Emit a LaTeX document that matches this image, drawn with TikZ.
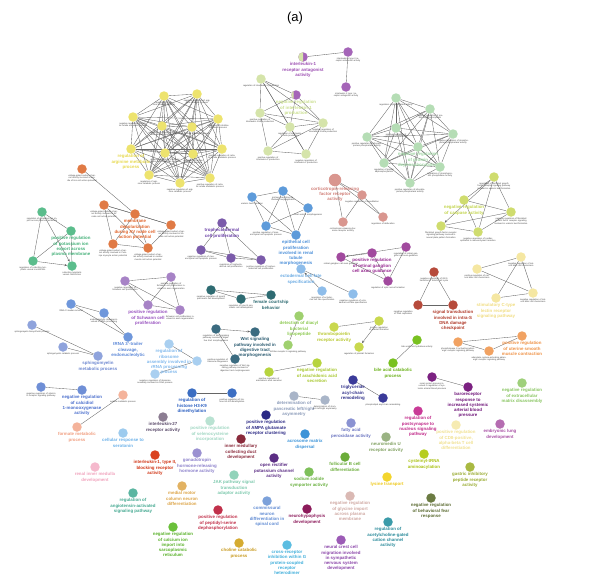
\documentclass[tikz,border=0pt]{standalone}
\usepackage{fontspec}
\setmainfont{Liberation Sans}
\usetikzlibrary{backgrounds,arrows.meta}
\definecolor{cY}{HTML}{EDE36E}\definecolor{cYl}{HTML}{E6D84E}
\definecolor{cG}{HTML}{D5E4AA}\definecolor{cGl}{HTML}{C9DE8E}
\definecolor{cP}{HTML}{A565B8}\definecolor{cPl}{HTML}{9A4CB0}
\definecolor{cM}{HTML}{B5DDB5}\definecolor{cMl}{HTML}{9ED4A2}
\definecolor{cO}{HTML}{CFDC6E}\definecolor{cOl}{HTML}{C2D44C}
\definecolor{cS}{HTML}{D9968F}\definecolor{cSl}{HTML}{D07E77}
\definecolor{cE}{HTML}{5E9BDA}\definecolor{cEl}{HTML}{4A8ED8}
\definecolor{cLB}{HTML}{8EBDEA}\definecolor{cLBl}{HTML}{6AAAE2}
\definecolor{cTR}{HTML}{7B5BAA}\definecolor{cTRl}{HTML}{6A40A6}
\definecolor{cF}{HTML}{2E6B72}
\definecolor{cRG}{HTML}{A14A9E}\definecolor{cRGl}{HTML}{962A90}
\definecolor{cOR}{HTML}{E07A45}\definecolor{cORl}{HTML}{E0652C}
\definecolor{cK}{HTML}{5BBD8C}\definecolor{cKl}{HTML}{45B079}
\definecolor{cSW}{HTML}{A783C6}\definecolor{cSWl}{HTML}{9650BE}
\definecolor{cTB}{HTML}{6F97DB}\definecolor{cTBl}{HTML}{5A86D6}
\definecolor{cSP}{HTML}{8FA3DC}\definecolor{cSPl}{HTML}{6C86CF}
\definecolor{cCA}{HTML}{6F8FD6}\definecolor{cCAl}{HTML}{4A6ECC}
\definecolor{cFO}{HTML}{F4B39B}\definecolor{cFOl}{HTML}{F09E80}
\definecolor{cSE}{HTML}{9DCBEE}\definecolor{cSEl}{HTML}{6AB0E8}
\definecolor{cRB}{HTML}{A9CFF0}\definecolor{cRBl}{HTML}{80B8EC}
\definecolor{cHI}{HTML}{3C6EC2}\definecolor{cHIl}{HTML}{2A5EC0}
\definecolor{cIL}{HTML}{8C7D92}\definecolor{cILl}{HTML}{5A4A6A}
\definecolor{cWN}{HTML}{3B6B80}\definecolor{cWNl}{HTML}{2A5A70}
\definecolor{cDI}{HTML}{9FD06F}\definecolor{cDIl}{HTML}{8CC850}
\definecolor{cTH}{HTML}{C9D84F}\definecolor{cTHl}{HTML}{B8C830}
\definecolor{cAR}{HTML}{B7D43F}\definecolor{cARl}{HTML}{A6C62C}
\definecolor{cBI}{HTML}{79C121}\definecolor{cBIl}{HTML}{6AB018}
\definecolor{cTG}{HTML}{3A3A99}\definecolor{cTGl}{HTML}{30308A}
\definecolor{cPA}{HTML}{A9B5C8}\definecolor{cPAl}{HTML}{8A9AB8}
\definecolor{cAM}{HTML}{2C2A85}
\definecolor{cSC}{HTML}{B9E2D2}\definecolor{cSCl}{HTML}{A0D6C2}
\definecolor{cFA}{HTML}{8A92D2}\definecolor{cFAl}{HTML}{6A74C0}
\definecolor{cNM}{HTML}{9AB383}\definecolor{cNMl}{HTML}{80A060}
\definecolor{cAC}{HTML}{3B93D8}
\definecolor{cIM}{HTML}{8A2B3C}
\definecolor{cGN}{HTML}{9B91D1}\definecolor{cGNl}{HTML}{8A7FCA}
\definecolor{cOP}{HTML}{5B2D84}
\definecolor{cFB}{HTML}{6BAC3A}
\definecolor{cNI}{HTML}{7EC05A}\definecolor{cNIl}{HTML}{6AB040}
\definecolor{cLY}{HTML}{F3D52E}\definecolor{cLYl}{HTML}{EEC81C}
\definecolor{cJK}{HTML}{92D3BA}\definecolor{cJKl}{HTML}{7CC8AC}
\definecolor{cGL}{HTML}{DAB9B4}\definecolor{cGLl}{HTML}{CFA8A2}
\definecolor{cCM}{HTML}{7CA1DA}\definecolor{cCMl}{HTML}{5F8AD2}
\definecolor{cNH}{HTML}{8C1B5B}
\definecolor{cPS}{HTML}{C1314B}
\definecolor{cAH}{HTML}{3B9BA9}\definecolor{cAHl}{HTML}{2A8A9A}
\definecolor{cCH}{HTML}{D5AB31}\definecolor{cCHl}{HTML}{C89A20}
\definecolor{cCR}{HTML}{5CBDE1}\definecolor{cCRl}{HTML}{40AEDA}
\definecolor{cNC}{HTML}{9C5BB6}\definecolor{cNCl}{HTML}{8A44A8}
\definecolor{cRI}{HTML}{F5B9CD}\definecolor{cRIl}{HTML}{F0A2BC}
\definecolor{cI1}{HTML}{DA421F}\definecolor{cI1l}{HTML}{D03414}
\definecolor{cMM}{HTML}{E2B262}\definecolor{cMMl}{HTML}{DCA448}
\definecolor{cAN}{HTML}{5BB6A1}\definecolor{cANl}{HTML}{44A890}
\definecolor{cCL}{HTML}{6BC03B}\definecolor{cCLl}{HTML}{58B028}
\definecolor{cCY}{HTML}{B6CD1C}\definecolor{cCYl}{HTML}{A8C010}
\definecolor{cGA}{HTML}{A9B942}\definecolor{cGAl}{HTML}{98AA30}
\definecolor{cFE}{HTML}{6B7B42}\definecolor{cFEl}{HTML}{5A6A30}
\definecolor{cCD}{HTML}{F6EBB2}\definecolor{cCDl}{HTML}{F0E090}
\definecolor{cEL}{HTML}{B56CB1}\definecolor{cELl}{HTML}{A850A4}
\definecolor{cPO}{HTML}{C93B97}\definecolor{cPOl}{HTML}{C02888}
\definecolor{cBR}{HTML}{7B2181}\definecolor{cBRl}{HTML}{6E1478}
\definecolor{cEC}{HTML}{9FD07B}\definecolor{cECl}{HTML}{88C460}
\definecolor{cUT}{HTML}{F1A262}\definecolor{cUTl}{HTML}{EE9044}
\definecolor{cST}{HTML}{B64A3B}\definecolor{cSTl}{HTML}{B03A2A}
\definecolor{cCT}{HTML}{F5E7A2}\definecolor{cCTl}{HTML}{F0DC80}
\tikzset{
 nd/.style={circle,minimum size=9.5pt,inner sep=0pt,draw=none},
 tl/.style={font=\fontsize{2.2}{2.6}\selectfont,text=black!75,align=center,text width=36pt,inner sep=0.6pt},
 bl/.style={font=\fontsize{4.4}{5.2}\selectfont\bfseries,align=center,inner sep=0.6pt},
 ed/.style={draw=black!60,line width=0.35pt},
 arr/.style={ed,-{Stealth[length=2.6pt,width=2.2pt]}},
}
\newcommand{\tnode}[5]{\node[nd,fill=#4,label={[tl]below:{#5}}] (#1) at (#2,#3) {};}
\newcommand{\bnode}[6]{\node[nd,fill=#4,label={[bl,text=#5]below:{#6}}] (#1) at (#2,#3) {};}
\begin{document}
\begin{tikzpicture}[x=1pt,y=-1pt]
\useasboundingbox (0,0) rectangle (593,578);
\node[font=\fontsize{13}{15}\selectfont\rmfamily] (title) at (295,18) {(a)};
% yellow cluster
\tnode{y1}{164}{96}{cY}{regulation of arginine catabolic process}
\tnode{y2}{197}{94}{cY}{negative regulation of arginine catabolic process}
\tnode{y3}{133}{117}{cY}{negative regulation of cellular amide metabolic process}
\tnode{y4}{162}{126}{cY}{regulation of cellular amino acid catabolic process}
\tnode{y5}{192}{127}{cY}{regulation of urea metabolic process}
\tnode{y6}{218}{119}{cY}{regulation of citrulline metabolic process}
\bnode{y7}{131}{149}{cY}{cYl}{regulation of\\arginine metabolic\\process}
\tnode{y8}{165}{153}{cY}{negative regulation of cellular amino acid metabolic process}
\tnode{y9}{193}{154}{cY}{regulation of amine metabolic process}
\tnode{y10}{222}{149}{cY}{positive regulation of cellular amide metabolic process}
\tnode{y11}{149}{175}{cY}{regulation of arginine catabolic process}
\tnode{y12}{180}{183}{cY}{negative regulation of arginine catabolic process}
\tnode{y13}{210}{178}{cY}{positive regulation of cellular amide metabolic process}
% light green + purple
\tnode{g1}{261}{79}{cG}{regulation of interleukin-1 production}
\bnode{g2}{296}{95}{cP}{cGl}{negative regulation\\of interleukin-1\\production}
\tnode{g3}{260}{113}{cG}{positive regulation of interleukin-1 beta production}
\tnode{g4}{290}{127}{cG}{regulation of interleukin-1 beta production}
\tnode{g5}{323}{123}{cG}{negative regulation of interleukin-1 beta production}
\tnode{g6}{268}{151}{cG}{positive regulation of interleukin-1 production}
\tnode{g7}{306}{154}{cG}{negative regulation of interleukin-1 production}
\bnode{p1}{303}{57}{cP}{cPl}{interleukin-1\\receptor antagonist\\activity}
\tnode{p2}{348}{52}{cP}{interleukin-1 type II receptor antagonist activity}
\tnode{p3}{346}{87}{cP}{interleukin-1 type I receptor antagonist activity}
\begin{scope}\clip (290,40) rectangle (303,70); \fill[cG] (p1) circle (4.75); \end{scope}
\begin{scope}\clip (280,80) rectangle (293.5,110); \fill[cG] (g2) circle (4.75); \end{scope}
% mint
\tnode{m1}{396}{98}{cM}{regulation of phosphatase activity}
\tnode{m2}{430}{109}{cM}{negative regulation of protein dephosphorylation}
\tnode{m3}{396}{128}{cM}{positive regulation of phosphatase activity}
\tnode{m4}{453}{134}{cM}{negative regulation of phosphoprotein phosphatase activity}
\tnode{m5}{367}{137}{cM}{positive regulation of phosphoprotein phosphatase activity}
\bnode{m6}{418}{147}{cM}{cMl}{negative regulation\\of protein\\dephosphorylation}
\tnode{m7}{384}{163}{cM}{regulation of protein dephosphorylation}
\tnode{m8}{440}{167}{cM}{regulation of phosphoprotein phosphatase activity}
\tnode{m9}{410}{183}{cM}{positive regulation of phosphoprotein phosphatase activity}
% olive
\tnode{n1}{494}{177}{cO}{regulation of fibroblast growth factor receptor signaling pathway involved in ureteric bud formation}
\bnode{n2}{464}{200}{cO}{cOl}{negative regulation\\of caspase activity}
\tnode{n3}{511}{212}{cO}{negative regulation of fibroblast growth factor receptor signaling involved in ureteric bud formation}
\tnode{n4}{441}{226}{cO}{fibroblast growth factor receptor signaling pathway involved in neural plate pattern formation}
\tnode{n5}{478}{232}{cO}{negative regulation of cardiac epithelial to mesenchymal transition}
% salmon
\node[nd,minimum size=12.5pt,fill=cS,label={[bl,text=cSl]below:{corticotropin-releasing\\factor receptor\\activity}}] (c1) at (335,180) {};
\tnode{c2}{362}{195}{cS}{negative regulation of vasodilation}
\tnode{c3}{383}{217}{cS}{regulation of defecation}
\tnode{c4}{343}{222}{cS}{corticotropin-releasing hormone receptor activity}
% blue epithelial
\tnode{e1}{252}{197}{cE}{ureteric bud formation}
\tnode{e2}{283}{191}{cE}{primary branching epithelium morphogenesis}
\tnode{e3}{308}{208}{cE}{renal vesicle morphogenesis}
\tnode{e4}{266}{226}{cE}{positive regulation of mesenchymal cell apoptotic process}
\bnode{e5}{296}{235}{cE}{cEl}{epithelial cell\\proliferation\\involved in renal\\tubule\\morphogenesis}
% ectodermal
\bnode{d1}{301}{269}{cLB}{cLBl}{ectodermal cell fate\\specification}
\tnode{d2}{322}{291}{cLB}{regulation of ectodermal cell fate specification}
\tnode{d3}{353}{294}{cLB}{negative regulation of ectodermal cell fate specification}
% trophectodermal
\bnode{r1}{222}{223}{cTR}{cTRl}{trophectodermal\\cell proliferation}
\tnode{r2}{201}{250}{cTR}{negative regulation of mesenchymal cell apoptotic process}
\tnode{r3}{231}{258}{cTR}{regulation of trophectodermal cell proliferation}
\tnode{r4}{261}{260}{cTR}{positive regulation of trophectodermal cell proliferation}
% female courtship
\tnode{f1}{211}{290}{cF}{negative regulation of type B pancreatic cell development}
\tnode{f2}{241}{299}{cF}{regulation of type B pancreatic cell development}
\bnode{f3}{271}{295}{cF}{cF}{female courtship\\behavior}
% retinal
\tnode{q1}{341}{257}{cRG}{retinal ganglion cell axon guidance}
\bnode{q2}{372}{253}{cRG}{cRGl}{positive regulation\\of retinal ganglion\\cell axon guidance}
\tnode{q3}{406}{247}{cRG}{regulation of retinal ganglion cell axon guidance}
\tnode{q4}{388}{281}{cRG}{regulation of optic nerve formation}
% orange
\tnode{o1}{82}{169}{cOR}{voltage-gated sodium channel activity involved in bundle of His cell action potential}
\tnode{o2}{104}{205}{cOR}{voltage-gated sodium channel activity involved in AV node cell action potential}
\bnode{o3}{135}{214}{cOR}{cORl}{membrane\\depolarization\\during AV node cell\\action potential}
\tnode{o4}{171}{225}{cOR}{voltage-gated sodium channel activity involved in SA node cell action potential}
\tnode{o5}{113}{244}{cOR}{voltage-gated sodium channel activity involved in Purkinje myocyte action potential}
\tnode{o6}{148}{248}{cOR}{voltage-gated sodium channel activity involved in cardiac muscle cell action potential}
% green K
\tnode{k1}{42}{212}{cK}{regulation of potassium ion import across plasma membrane}
\bnode{k2}{71}{231}{cK}{cKl}{positive regulation\\of potassium ion\\export across\\plasma membrane}
\tnode{k3}{33}{261}{cK}{regulation of collecting lymphatic vessel constriction}
\tnode{k4}{72}{266}{cK}{collecting lymphatic vessel constriction}
% Schwann
\tnode{s1}{125}{281}{cSW}{negative regulation of Schwann cell proliferation}
\tnode{s2}{171}{277}{cSW}{positive regulation of Schwann cell proliferation involved in axon regeneration}
\bnode{s3}{148}{305}{cSW}{cSWl}{positive regulation\\of Schwann cell\\proliferation}
\tnode{s4}{180}{310}{cSW}{Schwann cell proliferation involved in axon regeneration}
% tRNA
\tnode{t1}{71}{304}{cTB}{tRNA 5'-leader removal}
\tnode{t2}{104}{313}{cTB}{endonucleolytic cleavage involved in tRNA processing}
\bnode{t3}{128}{337}{cTB}{cTBl}{tRNA 3'-trailer\\cleavage,\\endonucleolytic}
% sphingomyelin
\tnode{h1}{32}{325}{cSP}{sphingomyelin biosynthetic process}
\tnode{h2}{63}{347}{cSP}{sphingomyelin catabolic process}
\bnode{h3}{98}{356}{cSP}{cSPl}{sphingomyelin\\metabolic process}
% calcidiol
\tnode{a1}{41}{387}{cCA}{negative regulation of vitamin D receptor signaling pathway}
\bnode{a2}{82}{390}{cCA}{cCAl}{negative regulation\\of calcidiol\\1-monooxygenase\\activity}
% formate
\tnode{fm1}{123}{395}{cFO}{oxalate metabolic process}
\bnode{fm2}{77}{427}{cFO}{cFOl}{formate metabolic\\process}
\bnode{se}{123}{433}{cSE}{cSEl}{cellular response to\\serotonin}
% ribosome
\bnode{rb1}{169}{344}{cRB}{cRBl}{regulation of\\ribosome\\assembly involved in\\rRNA processing\\process}
\node[nd,fill=cRB,label={[tl,text width=30pt]right:{positive regulation of ribosome biogenesis}}] (rb2) at (197,361) {};
\tnode{rb3}{155}{374}{cRB}{negative regulation of ribosome assembly involved in rRNA process}
% histone
\bnode{hi1}{192}{393}{cHI}{cHIl}{regulation of\\histone H3-K9\\dimethylation}
\tnode{hi2}{232}{393}{cHI}{positive regulation of histone H3-K9 dimethylation}
\bnode{il}{163}{417}{cIL}{cILl}{interleukin-27\\receptor activity}
% Wnt
\tnode{w1}{216}{329}{cWN}{regulation of Wnt signaling pathway involved in digestive tract morphogenesis}
\bnode{w2}{255}{332}{cWN}{cWNl}{Wnt signaling\\pathway involved in\\digestive tract\\morphogenesis}
\tnode{w3}{235}{359}{cWN}{negative regulation of Wnt signaling pathway involved in digestive tract morphogenesis}
% diacyl
\bnode{di1}{299}{316}{cDI}{cDIl}{detection of diacyl\\bacterial\\lipopeptide}
\tnode{di2}{288}{345}{cDI}{toll-like receptor 6 signaling pathway}
% thrombopoietin
\bnode{th1}{334}{327}{cTH}{cTHl}{thrombopoietin\\receptor activity}
\tnode{th2}{379}{321}{cTH}{positive regulation of platelet formation}
\tnode{th3}{359}{347}{cTH}{regulation of platelet formation}
% arachidonic
\tnode{ar1}{269}{372}{cAR}{positive regulation of arachidonic acid secretion}
\bnode{ar2}{317}{363}{cAR}{cARl}{negative regulation\\of arachidonic acid\\secretion}
% bile
\tnode{bi1}{417}{340}{cBI}{bile acid-CoA hydrolase activity}
\bnode{bi2}{393}{363}{cBI}{cBIl}{bile acid catabolic\\process}
% triglyceride
\bnode{tg1}{353}{380}{cTG}{cTGl}{triglyceride\\acyl-chain\\remodeling}
\tnode{tg2}{383}{398}{cTG}{phospholipid acyl-chain remodeling}
% pancreatic
\bnode{pa1}{294}{396}{cPA}{cPAl}{determination of\\pancreatic left/right\\asymmetry}
\tnode{pa2}{325}{400}{cPA}{determination of stomach left/right asymmetry}
% singletons
\bnode{am}{266}{415}{cAM}{cAM}{positive regulation\\of AMPA glutamate\\receptor clustering}
\bnode{sc}{210}{421}{cSC}{cSCl}{positive regulation\\of selenocysteine\\incorporation}
\bnode{fa}{351}{423}{cFA}{cFAl}{fatty acid\\peroxidase activity}
\bnode{nm}{386}{437}{cNM}{cNMl}{neuromedin U\\receptor activity}
\bnode{ac}{305}{434}{cAC}{cAC}{acrosome matrix\\dispersal}
\bnode{im}{241}{439}{cIM}{cIM}{inner medullary\\collecting duct\\development}
\bnode{gn}{197}{453}{cGN}{cGNl}{gonadotropin\\hormone-releasing\\hormone activity}
\bnode{op}{274}{458}{cOP}{cOP}{open rectifier\\potassium channel\\activity}
\bnode{fb}{345}{457}{cFB}{cFB}{follicular B cell\\differentiation}
\bnode{ni}{309}{472}{cNI}{cNIl}{sodium:iodide\\symporter activity}
\bnode{ly}{387}{477}{cLY}{cLYl}{lysine transport}
\bnode{jk}{234}{475}{cJK}{cJKl}{JAK pathway signal\\transduction\\adaptor activity}
\bnode{gl}{350}{496}{cGL}{cGLl}{negative regulation\\of glycine import\\across plasma\\membrane}
\bnode{cm}{267}{501}{cCM}{cCMl}{commissural\\neuron\\differentiation in\\spinal cord}
\bnode{nh}{307}{509}{cNH}{cNH}{neurohypophysis\\development}
\bnode{ps}{218}{510}{cPS}{cPS}{positive regulation\\of peptidyl-serine\\dephosphorylation}
\bnode{ah}{388}{522}{cAH}{cAHl}{regulation of\\acetylcholine-gated\\cation channel\\activity}
\bnode{ch}{239}{543}{cCH}{cCHl}{choline catabolic\\process}
\bnode{cr}{287}{545}{cCR}{cCRl}{cross-receptor\\inhibition within G\\protein-coupled\\receptor\\heterodimer}
\bnode{nc}{341}{540}{cNC}{cNCl}{neural crest cell\\migration involved\\in sympathetic\\nervous system\\development}
\bnode{ri}{95}{467}{cRI}{cRIl}{renal inner medulla\\development}
\bnode{i1}{155}{455}{cI1}{cI1l}{interleukin-1, type II,\\blocking receptor\\activity}
\bnode{mm}{182}{486}{cMM}{cMMl}{medial motor\\column neuron\\differentiation}
\bnode{an}{133}{493}{cAN}{cANl}{regulation of\\angiotensin-activated\\signaling pathway}
\bnode{cl}{173}{527}{cCL}{cCLl}{negative regulation\\of calcium ion\\import into\\sarcoplasmic\\reticulum}
\bnode{cy}{424}{454}{cCY}{cCYl}{cysteinyl-tRNA\\aminoacylation}
\bnode{ga}{470}{467}{cGA}{cGAl}{gastric inhibitory\\peptide receptor\\activity}
\bnode{fe}{431}{498}{cFE}{cFEl}{negative regulation\\of behavioral fear\\response}
\bnode{cd}{456}{425}{cCD}{cCDl}{positive regulation\\of CD8-positive,\\alpha-beta T cell\\differentiation}
\bnode{el}{500}{424}{cEL}{cELl}{embryonic lung\\development}
\bnode{po}{418}{411}{cPO}{cPOl}{regulation of\\postsynapse to\\nucleus signaling\\pathway}
% baroreceptor
\tnode{br1}{432}{377}{cBR}{renal system process involved in regulation of systemic arterial blood pressure}
\bnode{br2}{468}{387}{cBR}{cBRl}{baroreceptor\\response to\\increased systemic\\arterial blood\\pressure}
\bnode{ec}{522}{383}{cEC}{cECl}{negative regulation\\of extracellular\\matrix disassembly}
% uterine
\tnode{u1}{458}{342}{cUT}{phospholipase C-activating adrenergic receptor signaling pathway}
\tnode{u2}{489}{351}{cUT}{adenylate cyclase-activating adrenergic receptor signaling pathway}
\bnode{u3}{522}{336}{cUT}{cUTl}{positive regulation\\of uterine smooth\\muscle contraction}
% signal transduction
\tnode{st1}{434}{272}{cST}{negative regulation of G1/S transition of mitotic cell cycle}
\node[nd,fill=cST,label={[tl,text width=28pt,anchor=north east]below:{negative regulation of DNA replication}}] (st2) at (418,305) {};
\bnode{st3}{453}{305}{cST}{cSTl}{signal transduction\\involved in intra-S\\DNA damage\\checkpoint}
% C-type lectin
\tnode{l1}{521}{257}{cCT}{negative regulation of natural killer cell chemotaxis}
\tnode{l2}{477}{269}{cCT}{positive regulation of natural killer cell chemotaxis}
\tnode{l3}{533}{293}{cCT}{negative regulation of natural killer cell chemotaxis}
\bnode{l4}{496}{298}{cCT}{cCTl}{stimulatory C-type\\lectin receptor\\signaling pathway}
% edges
\begin{scope}[on background layer]
\foreach \i in {1,...,12}{\pgfmathtruncatemacro\k{\i+1}\foreach \j in {\k,...,13}{\draw[ed] (y\i)--(y\j);}}
\foreach \i in {1,...,8}{\pgfmathtruncatemacro\k{\i+1}\foreach \j in {\k,...,9}{\draw[ed] (m\i)--(m\j);}}
\foreach \a/\b in {g1/g2,g1/g3,g1/g4,g1/g5,g1/g7,g2/g3,g2/g4,g2/g5,g3/g4,g3/g6,g3/g5,g4/g6,g4/g7,g4/g5,g5/g6,g5/g7,g6/g7,p1/p2,p2/p3,
 o1/o3,o2/o3,o2/o4,o2/o5,o2/o6,o3/o4,o3/o5,o3/o6,o4/o6,o5/o6,
 k1/k2,k1/k3,k2/k3,k2/k4,
 s1/s2,s1/s3,s1/s4,s2/s3,s2/s4,s3/s4,
 t1/t3,t2/t3,t1/t2,h1/h3,h2/h3,a1/a2,fm1/fm2,rb1/rb2,rb2/rb3,hi1/hi2,
 w1/w3,r1/r2,r1/r3,r2/r3,r2/r4,r3/r4,f1/f3,f2/f3,f1/f2,
 e1/e2,e1/e4,e1/e5,e2/e3,e2/e4,e2/e5,e3/e4,e3/e5,e4/e5,
 d1/d3,q1/q2,q1/q4,q2/q4,q3/q4,c1/c2,c1/c3,c1/c4,c2/c3,c2/c4,
 n1/n2,n1/n3,n1/n5,n2/n3,n2/n5,n3/n4,n3/n5,n4/n5,
 l1/l2,l1/l3,l1/l4,l2/l3,l3/l4,st1/st2,st1/st3,st2/st3,u1/u2,u1/u3,u2/u3,
 br1/br2,bi1/bi2,th1/th2,ar1/ar2,tg1/tg2,pa1/pa2,di1/di2}{\draw[ed] (\a)--(\b);}
\foreach \a/\b in {k1/k4,k3/k4,w1/w2,r4/r1,d2/d1,q3/q1,th2/th3,n1/n4}{\draw[arr] (\a)--(\b);}
\end{scope}
\end{tikzpicture}
\end{document}
